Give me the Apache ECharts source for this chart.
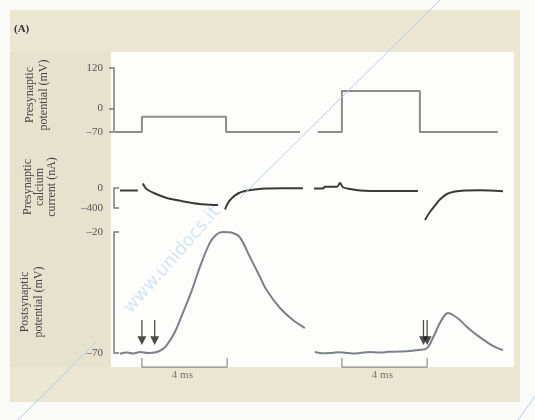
<!DOCTYPE html>
<html><head><meta charset="utf-8">
<script src="https://cdn.jsdelivr.net/npm/echarts@6/dist/echarts.min.js"></script>
<style>html,body{margin:0;padding:0;background:#fafaf8;}#c{width:535px;height:420px;}</style>
</head><body><div id="c"></div>
<script>
// time axis: ms relative to onset of the presynaptic voltage step
const preLeftT  = [-1.27, 0, 0, 3.95, 3.95, 7.42];
const preLeftV  = [-70, -70, -25, -25, -70, -70];
const preRightT = [-1.13, 0, 0, 3.66, 3.66, 7.32];
const preRightV = [-70, -70, 52, 52, -70, -70];

const caLeftT = [-1.03, -0.19, -0.1, 0.05, 0.12, 0.25, 0.61, 1.17, 1.6, 2.02, 2.72, 3.2, 3.57, 3.7, 3.9, 4.04, 4.23, 4.51, 4.84, 5.3, 5.87, 6.71, 7.56];
const caLeftV = [-50, -50, '-', 90, 30, -30, -110, -200, -240, -275, -320, -335, -340, '-', -430, -300, -200, -110, -60, -30, -10, -6, -6];
const caRightT = [-1.31, -0.89, -0.8, -0.23, -0.09, 0.05, 0.38, 0.85, 2.02, 3.57, 3.7, 3.9, 4.13, 4.37, 4.6, 4.93, 5.31, 5.77, 6.48, 7.56];
const caRightV = [-8, -8, 25, 25, 100, 15, -20, -50, -60, -60, '-', -640, -480, -350, -230, -120, -70, -50, -45, -65];

const postLeftT = [-1.03, -0.7, -0.4, -0.09, 0.3, 0.7, 0.99, 1.17, 1.55, 1.92, 2.35, 2.72, 3.19, 3.5, 3.8, 4.27, 4.6, 5.07, 5.54, 5.85, 6.48, 7.09, 7.65];
const postLeftV = [-70.3, -69.8, -70.2, -69.6, -70, -69.6, -68.3, -66.7, -61.3, -53.5, -44, -34.5, -24.5, -21, -20, -20.4, -22.2, -30.3, -38.5, -44, -51.4, -56.4, -59.7];
const postRightT = [-1.27, -0.9, -0.56, -0.2, 0.14, 0.5, 0.85, 1.3, 1.78, 2.2, 2.72, 3.2, 3.57, 3.99, 4.27, 4.6, 4.84, 4.98, 5.21, 5.54, 5.87, 6.34, 6.81, 7.18, 7.56];
const postRightV = [-69.6, -70.1, -70, -69.7, -69.9, -70.2, -70, -69.6, -69.8, -69.5, -69.4, -69.2, -68.8, -68, -63.8, -57.6, -54.3, -53.5, -54.3, -56.4, -59.3, -62.6, -65.5, -67.5, -68.8];

const arrowsLeftT = [0, 0.6];
const arrowsRightT = [3.83, 4.0];
const arrowV = -61.5;
const scaleBarT = [0, 0, 4, 4];
const scaleBarV = [-72.1, -75.8, -75.8, -72.1];
const scaleBarLabel = '4 ms';

const preTicks = [-70, 0, 120];
const caTicks = [-400, 0];
const postTicks = [-70, -20];

const axisTitles = ['Presynaptic\npotential (mV)', 'Presynaptic\ncalcium\ncurrent (nA)', 'Postsynaptic\npotential (mV)'];

const zip = (t, v) => t.map((x, i) => [x, v[i]]);
const SERIF = '"Liberation Serif", "DejaVu Serif", serif';
const fmt = v => String(v).replace('-', '\u2013');

const grids = [];
const xAxes = [];
const rows = [{top: 68, height: 64}, {top: 188, height: 20}, {top: 232, height: 121}];
rows.forEach(r => {
  [114, 314].forEach(l => {
    grids.push({left: l, top: r.top, width: 193, height: r.height});
    xAxes.push({gridIndex: grids.length - 1, type: 'value', min: -1.31, max: 7.75, show: false});
  });
});

const axisCommon = (gi, min, max, ticks, show, inside) => ({
  gridIndex: gi, type: 'value', min: min, max: max, show: show,
  splitLine: {show: false},
  axisLine: {show: true, onZero: false, lineStyle: {color: '#7a7a7a', width: 1.5}},
  axisTick: {show: true, inside: inside, length: 5, customValues: ticks, lineStyle: {color: '#7a7a7a', width: 1.5}},
  axisLabel: {customValues: ticks, formatter: fmt, fontFamily: SERIF, fontSize: 11, color: '#555', margin: 11}
});
const yAxes = [
  axisCommon(0, -70, 120, preTicks, true, false),
  axisCommon(1, -70, 120, preTicks, false, false),
  axisCommon(2, -400, 0, caTicks, true, true),
  axisCommon(3, -400, 0, caTicks, false, true),
  axisCommon(4, -70, -20, postTicks, true, true),
  axisCommon(5, -70, -20, postTicks, false, true)
];

const line = (i, data, color, w, smooth) => ({
  type: 'line', xAxisIndex: i, yAxisIndex: i, data: data, showSymbol: false, symbol: 'none',
  clip: false, connectNulls: false, smooth: smooth || false,
  lineStyle: {color: color, width: w}, z: 5
});

const arrowPath = 'path://M4.3,0 L5.7,0 L5.7,17 L10,17 L5,26 L0,17 L4.3,17 Z';
const arrows = (i, ts) => ({
  type: 'scatter', xAxisIndex: i, yAxisIndex: i, clip: false,
  data: ts.map(t => [t, arrowV]), symbol: arrowPath, symbolSize: [9, 25],
  itemStyle: {color: '#1e1e1e'}, z: 6
});
const bar = i => line(i, zip(scaleBarT, scaleBarV), '#8a8a8a', 1.2);
const barLabel = i => ({
  type: 'scatter', xAxisIndex: i, yAxisIndex: i, clip: false, symbolSize: 0,
  data: [[1.9, -79]],
  label: {show: true, position: 'inside', formatter: scaleBarLabel, fontFamily: SERIF, fontSize: 11, color: '#555'}
});

const series = [
  line(0, zip(preLeftT, preLeftV), '#8c8c8c', 2),
  line(1, zip(preRightT, preRightV), '#8c8c8c', 2),
  line(2, zip(caLeftT, caLeftV), '#3a3a3a', 2, 0.3),
  line(3, zip(caRightT, caRightV), '#3a3a3a', 2, 0.3),
  line(4, zip(postLeftT, postLeftV), '#7c8089', 2, 0.35),
  line(5, zip(postRightT, postRightV), '#7c8089', 2, 0.35),
  arrows(4, arrowsLeftT), arrows(5, arrowsRightT),
  bar(4), bar(5), barLabel(4), barLabel(5)
];

const titlePos = [[37, 95], [40, 187], [32, 302]];
const graphic = [
  {type: 'rect', z: -100, shape: {x: 10, y: 10, width: 510, height: 392}, style: {fill: '#ebe6d1'}},
  {type: 'rect', z: -99, shape: {x: 10, y: 52, width: 101, height: 315}, style: {fill: '#e6e2ce'}},
  {type: 'rect', z: -98, shape: {x: 111, y: 52, width: 403, height: 315}, style: {fill: '#fdfdfb'}},
  {type: 'text', z: 10, x: 14, y: 24, style: {text: '(A)', font: 'bold 11px ' + SERIF, fill: '#333'}},
  // watermark
  {type: 'line', z: 20, shape: {x1: 440, y1: 0, x2: 240, y2: 198}, style: {stroke: '#b3cfec', lineWidth: 1}},
  {type: 'line', z: 20, shape: {x1: 96, y1: 342, x2: 18, y2: 420}, style: {stroke: '#b3cfec', lineWidth: 1}},
  {type: 'line', z: 20, shape: {x1: 535, y1: 396, x2: 518, y2: 420}, style: {stroke: '#b3cfec', lineWidth: 1}},
  {type: 'text', z: 20, x: 172, y: 260, rotation: Math.PI * 0.27, style: {text: 'www.unidocs.it', font: '18px "DejaVu Sans", sans-serif', fill: 'rgba(150,190,230,0.4)', textAlign: 'center', textVerticalAlign: 'middle'}}
].concat(axisTitles.map((t, i) => ({
  type: 'text', z: 10, x: titlePos[i][0], y: titlePos[i][1], rotation: Math.PI / 2,
  style: {text: t, font: '12px ' + SERIF, lineHeight: i === 1 ? 12 : 14, fill: '#444', textAlign: 'center', textVerticalAlign: 'middle'}
})));

const chart = echarts.init(document.getElementById('c'), null, {renderer: 'canvas'});
chart.setOption({
  backgroundColor: '#fafaf8', animation: false,
  grid: grids, xAxis: xAxes, yAxis: yAxes, series: series, graphic: graphic
});
</script></body></html>
